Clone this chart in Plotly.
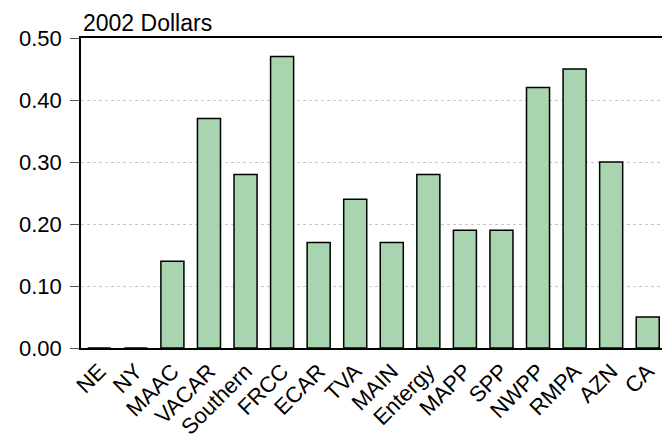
import plotly.graph_objects as go

regions = ["NE", "NY", "MAAC", "VACAR", "Southern", "FRCC", "ECAR", "TVA", "MAIN",
           "Entergy", "MAPP", "SPP", "NWPP", "RMPA", "AZN", "CA"]
values = [0.0, 0.0, 0.14, 0.37, 0.28, 0.47, 0.17, 0.24, 0.17,
          0.28, 0.19, 0.19, 0.42, 0.45, 0.30, 0.05]
y_ticks = [0.0, 0.1, 0.2, 0.3, 0.4, 0.5]

fig = go.Figure(go.Bar(
    x=regions, y=values,
    marker=dict(color="rgb(168,213,176)", line=dict(color="black", width=1.5)),
))

fig.update_layout(
    width=662, height=433,
    margin=dict(l=73, r=4, t=30, b=93, autoexpand=False),
    plot_bgcolor="white", paper_bgcolor="white",
    bargap=0.37,
    showlegend=False,
    font=dict(family="Liberation Sans, Arial, sans-serif", size=22, color="black"),
    xaxis=dict(
        tickangle=-45, showline=True, linecolor="black", linewidth=1.5, mirror=True,
        ticks="", showgrid=False, tickfont=dict(size=22), automargin=False,
    ),
    yaxis=dict(
        range=[0, 0.5], tickvals=y_ticks, tickformat=".2f",
        showline=True, linecolor="black", linewidth=1.5, mirror=True,
        ticks="outside", ticklen=9, tickcolor="#555", ticklabelstandoff=4,
        showgrid=True, gridcolor="#c8c8c8", griddash="dot", gridwidth=1,
        zeroline=False, tickfont=dict(size=22), automargin=False,
    ),
    annotations=[dict(
        text="2002 Dollars", x=0, y=1, xref="paper", yref="paper",
        xanchor="left", yanchor="bottom", showarrow=False, yshift=0,
        font=dict(size=23, color="black"),
    )],
)

fig.write_html("out.html")
